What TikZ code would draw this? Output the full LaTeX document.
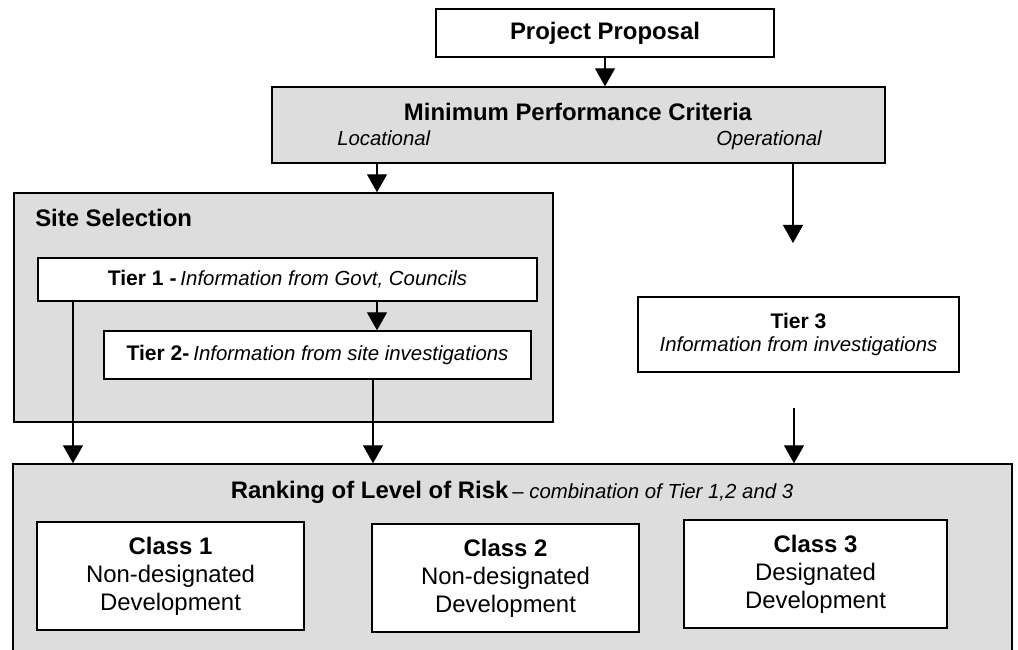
\documentclass[tikz,border=0pt]{standalone}
\usepackage{fontspec}
\setmainfont{Liberation Sans}
\usepackage{tikz}
\usetikzlibrary{arrows.meta, positioning}
\definecolor{boxgray}{HTML}{DDDDDD}
\newcommand{\bigtext}{\fontsize{17}{20}\selectfont}
\newcommand{\tiertext}{\fontsize{15}{17}\selectfont}
\newcommand{\smalltext}{\fontsize{14.5}{17}\selectfont}

\begin{document}
\begin{tikzpicture}[x=0.025cm, y=-0.025cm]
    \tikzstyle{whitebox}=[draw, line width=1pt, fill=white, inner sep=0pt, align=center];
    \tikzstyle{greybox}=[draw, line width=1pt, fill=boxgray, inner sep=0pt];
    \tikzstyle{arr}=[line width=1pt, -{Triangle[width=0.5cm, length=0.45cm]}];
    \tikzstyle{label}=[inner sep=0pt, align=center];

    \useasboundingbox (0,0) rectangle (1018,650);
    \clip (0,0) rectangle (1018,650);

    \node[whitebox, minimum width=8.45cm, minimum height=1.2cm, font=\bigtext\bfseries] (PP) at (605,33) {Project Proposal};

    \node[greybox, minimum width=15.325cm, minimum height=1.9cm] (MPC) at (578.5,125) {};
    \node[label, font=\bigtext\bfseries] (mpctitle) at (578,112) {Minimum Performance Criteria};
    \node[label, font=\smalltext\itshape, anchor=base west] (locational) at (337,145) {Locational};
    \node[label, font=\smalltext\itshape, anchor=base east] (operational) at (822,145) {Operational};

    \node[greybox, minimum width=13.475cm, minimum height=5.725cm] (SS) at (283.5,307.5) {};
    \node[label, font=\bigtext\bfseries, anchor=west] (sstitle) at (35,218) {Site Selection};
    \node[whitebox, minimum width=12.475cm, minimum height=1.075cm] (tierone) at (287.5,279.5)
        {{\tiertext\bfseries Tier 1 -} {\smalltext\itshape Information from Govt, Councils}};
    \node[whitebox, minimum width=10.675cm, minimum height=1.2cm] (tiertwo) at (317.5,355)
        {{\tiertext\bfseries Tier 2-} {\smalltext\itshape Information from site investigations}};

    \node[whitebox, minimum width=8.025cm, minimum height=1.875cm, font=\tiertext] (tierthree) at (798.5,334.5)
        {\textbf{Tier 3}\\[-1pt]{\smalltext\itshape Information from investigations}};

    \node[greybox, minimum width=24.975cm, minimum height=5.15cm] (rank) at (512.5,567) {};
    \node[label] (ranktitle) at (512,492)
        {{\bigtext\bfseries Ranking of Level of Risk} {\smalltext -- \itshape combination of Tier 1,2 and 3}};

    \node[whitebox, minimum width=6.675cm, minimum height=2.7cm, font=\bigtext] (classone) at (170.5,576)
        {\textbf{Class 1}\\Non-designated\\Development};
    \node[whitebox, minimum width=6.675cm, minimum height=2.7cm, font=\bigtext] (classtwo) at (505.5,578)
        {\textbf{Class 2}\\Non-designated\\Development};
    \node[whitebox, minimum width=6.575cm, minimum height=2.7cm, font=\bigtext] (classthree) at (815.5,574)
        {\textbf{Class 3}\\Designated\\Development};

    \coordinate (lx) at (377,0);
    \coordinate (xa) at (73,0);
    \coordinate (xb) at (373,0);
    \coordinate (opend) at (793,243);
    \coordinate (tthree) at (794,408);

    \draw[arr] (PP.south) -- (PP.south |- MPC.north);
    \draw[arr] (MPC.south -| lx) -- (SS.north -| lx);
    \draw[arr] (MPC.south -| opend) -- (opend);
    \draw[arr] (tierone.south -| lx) -- (tiertwo.north -| lx);
    \draw[arr] (tierone.south -| xa) -- (rank.north -| xa);
    \draw[arr] (tiertwo.south -| xb) -- (rank.north -| xb);
    \draw[arr] (tthree) -- (rank.north -| tthree);
\end{tikzpicture}
\end{document}
